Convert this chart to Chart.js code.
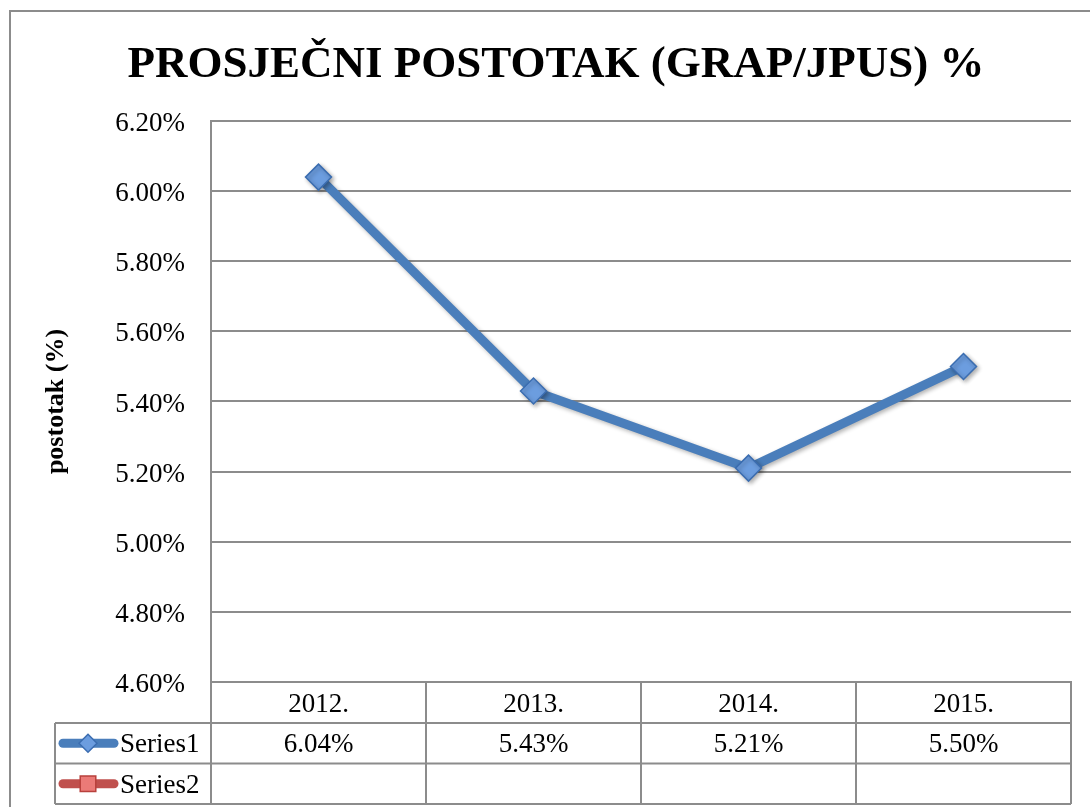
<!DOCTYPE html>
<html>
<head>
<meta charset="utf-8">
<script src="https://cdn.jsdelivr.net/npm/chart.js@4.4.1/dist/chart.umd.min.js"></script>
<style>
  html, body { margin: 0; padding: 0; background: #ffffff; }
  #wrap { width: 1090px; height: 807px; position: relative; }
</style>
</head>
<body>
<div id="wrap"><canvas id="c" width="1090" height="807"></canvas></div>
<script>
const categories = ['2012.', '2013.', '2014.', '2015.'];
const series1Values = [6.04, 5.43, 5.21, 5.50];
const series2Values = [null, null, null, null];
const seriesNames = ['Series1', 'Series2'];
const yMin = 4.6, yMax = 6.2, yStep = 0.2;
const chartTitle = 'PROSJEČNI POSTOTAK (GRAP/JPUS) %';
const yAxisTitle = 'postotak (%)';

const GRID = '#8c8c8c';
const FONT = "'Liberation Serif', 'Times New Roman', serif";

const fmt = v => (v === null || v === undefined) ? '' : v.toFixed(2) + '%';

const framePlugin = {
  id: 'frame',
  beforeDraw(chart) {
    const ctx = chart.ctx;
    ctx.save();
    ctx.fillStyle = '#ffffff';
    ctx.fillRect(0, 0, chart.width, chart.height);
    ctx.strokeStyle = GRID;
    ctx.lineWidth = 2;
    ctx.beginPath();
    ctx.moveTo(10, chart.height);
    ctx.lineTo(10, 11);
    ctx.lineTo(chart.width, 11);
    ctx.stroke();
    ctx.restore();
  }
};

const shadowPlugin = {
  id: 'shadow',
  beforeDatasetDraw(chart) {
    const ctx = chart.ctx;
    ctx.save();
    ctx.shadowColor = 'rgba(0,0,0,0.30)';
    ctx.shadowBlur = 4;
    ctx.shadowOffsetX = 2;
    ctx.shadowOffsetY = 2;
  },
  afterDatasetDraw(chart) {
    chart.ctx.restore();
  }
};

const tablePlugin = {
  id: 'dataTable',
  afterDraw(chart) {
    const ctx = chart.ctx;
    const xs = chart.scales.x;
    const area = chart.chartArea;
    const n = categories.length;
    const cw = (area.right - area.left) / n;
    const rowH = 40.5;
    const top = area.bottom;
    const r1 = top + rowH + 0.5;
    const r2 = r1 + rowH;
    const r3 = r2 + rowH;
    const keyLeft = 55;

    ctx.save();
    ctx.strokeStyle = GRID;
    ctx.lineWidth = 2;
    ctx.beginPath();
    ctx.moveTo(area.left, top); ctx.lineTo(area.right, top);
    [r1, r2, r3].forEach(y => { ctx.moveTo(keyLeft, y); ctx.lineTo(area.right, y); });
    ctx.moveTo(keyLeft, r1); ctx.lineTo(keyLeft, r3);
    ctx.moveTo(area.left, top); ctx.lineTo(area.left, r3);
    for (let i = 0; i < n; i++) {
      const xr = xs.getPixelForValue(i) + cw / 2;
      ctx.moveTo(xr, top); ctx.lineTo(xr, r3);
    }
    ctx.stroke();

    ctx.fillStyle = '#000000';
    ctx.font = '27px ' + FONT;
    ctx.textAlign = 'center';
    ctx.textBaseline = 'middle';
    categories.forEach((c, i) => {
      ctx.fillText(c, xs.getPixelForValue(i), (top + r1) / 2 + 2);
    });
    const rows = [[r1, r2], [r2, r3]];
    chart.data.datasets.forEach((ds, di) => {
      const yc = (rows[di][0] + rows[di][1]) / 2 + 2;
      ds.data.forEach((v, i) => {
        ctx.fillText(fmt(v), xs.getPixelForValue(i), yc);
      });
      const ky = yc - 2;
      ctx.save();
      ctx.strokeStyle = ds.borderColor;
      ctx.lineWidth = 9;
      ctx.lineCap = 'round';
      ctx.beginPath();
      ctx.moveTo(63, ky); ctx.lineTo(114, ky);
      ctx.stroke();
      ctx.fillStyle = ds.pointBackgroundColor;
      ctx.strokeStyle = ds.pointBorderColor;
      ctx.lineWidth = 1.5;
      Chart.helpers.drawPoint(ctx, {
        pointStyle: ds.pointStyle, radius: ds.pointStyle === 'rect' ? 11 : 9, rotation: 0, borderWidth: 1.5
      }, 88, ky);
      ctx.restore();
      ctx.textAlign = 'left';
      ctx.fillText(ds.label, 120, yc);
      ctx.textAlign = 'center';
    });
    ctx.restore();
  }
};

new Chart(document.getElementById('c'), {
  type: 'line',
  data: {
    labels: categories,
    datasets: [
      {
        label: seriesNames[0],
        data: series1Values,
        borderColor: '#4a7ebb',
        borderWidth: 9,
        pointStyle: 'rectRot',
        pointRadius: 13,
        pointHoverRadius: 13,
        pointBackgroundColor: '#6c9ddf',
        pointBorderColor: '#3b6db0',
        pointBorderWidth: 1.5,
        tension: 0,
        spanGaps: true
      },
      {
        label: seriesNames[1],
        data: series2Values,
        borderColor: '#c0504d',
        borderWidth: 9,
        pointStyle: 'rect',
        pointRadius: 13,
        pointBackgroundColor: '#eb7a77',
        pointBorderColor: '#b8403c',
        pointBorderWidth: 1.5,
        tension: 0
      }
    ]
  },
  options: {
    responsive: false,
    animation: false,
    events: [],
    layout: { padding: { left: 41, right: 19, top: 0, bottom: 0 } },
    plugins: {
      legend: { display: false },
      tooltip: { enabled: false },
      title: {
        display: true,
        text: chartTitle,
        color: '#000000',
        font: { family: FONT, size: 45, weight: 'bold' },
        padding: { top: 38, bottom: 29 }
      }
    },
    scales: {
      x: {
        type: 'category',
        offset: true,
        grid: { display: false, drawTicks: false },
        border: { display: true, color: GRID, width: 2 },
        ticks: { display: false },
        afterFit(scale) { scale.height = 125; }
      },
      y: {
        min: yMin,
        max: yMax,
        grid: { color: GRID, lineWidth: 2, drawTicks: false },
        border: { display: true, color: GRID, width: 2 },
        ticks: {
          stepSize: yStep,
          padding: 26,
          labelOffset: 3,
          color: '#000000',
          font: { family: FONT, size: 27 },
          callback: v => v.toFixed(2) + '%'
        },
        title: {
          display: true,
          text: yAxisTitle,
          color: '#000000',
          font: { family: FONT, size: 26, weight: 'bold' },
          padding: { top: 0, bottom: 0 }
        },
        afterFit(scale) { scale.width = 211 - 41; }
      }
    }
  },
  plugins: [framePlugin, shadowPlugin, tablePlugin]
});
</script>
</body>
</html>
